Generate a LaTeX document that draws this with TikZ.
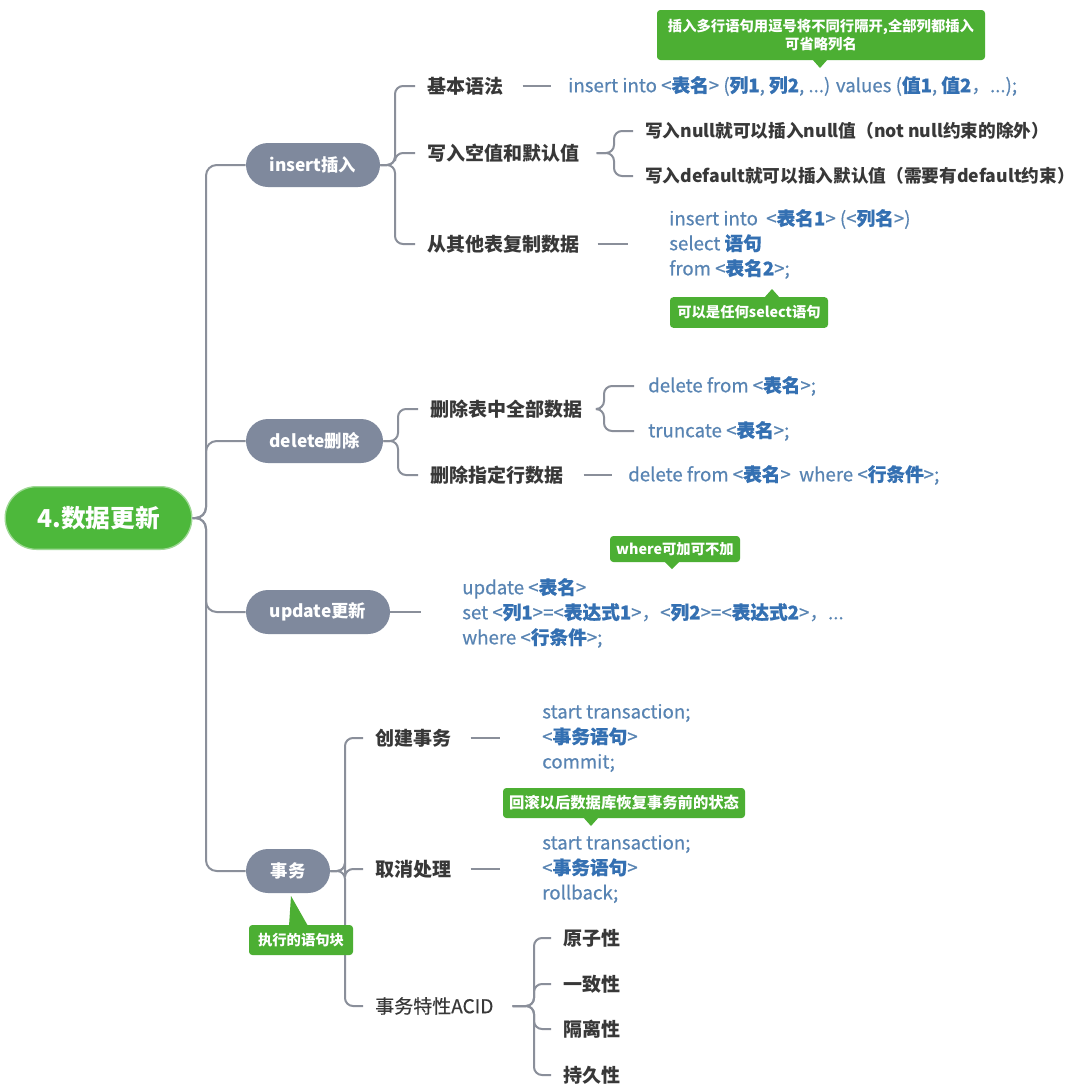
\documentclass[tikz,border=0pt]{standalone}
\usepackage{fontspec}
\setmainfont{Noto Sans CJK SC}
\newfontfamily\codefont{Noto Sans CJK SC}[FakeBold=0.5]
\usetikzlibrary{calc}
\definecolor{pillgray}{HTML}{7F899D}
\definecolor{linegray}{HTML}{8A8F9A}
\definecolor{rootgreen}{HTML}{4DB83B}
\definecolor{callgreen}{HTML}{4CAF33}
\definecolor{codeblue}{HTML}{5884B3}
\definecolor{codecjk}{HTML}{3470B2}
\definecolor{labeltext}{HTML}{383838}
\newcommand\cj[1]{\textbf{\textcolor{codecjk}{#1}}}
\begin{document}
\begin{tikzpicture}[x=0.75pt,y=-0.75pt,
  conn/.style={draw=linegray,line width=1.5pt,rounded corners=6pt},
  pill/.style={fill=pillgray,text=white,font=\bfseries\fontsize{13}{15}\selectfont,rounded corners=16.5pt,minimum height=33pt,inner sep=0pt},
  rootpill/.style={fill=rootgreen,draw=rootgreen!55!white,line width=1pt,text=white,font=\bfseries\fontsize{18.5}{21}\selectfont,rounded corners=23.5pt,minimum height=47pt,minimum width=140pt,inner sep=0pt},
  branch/.style={anchor=west,text=labeltext,font=\bfseries\fontsize{14.25}{17}\selectfont,inner xsep=9pt,inner ysep=2pt},
  leaf/.style={anchor=west,text=labeltext,font=\bfseries\fontsize{13.25}{16}\selectfont,inner xsep=9pt,inner ysep=2pt},
  branchreg/.style={anchor=west,text=labeltext,font=\codefont\fontsize{14.25}{17}\selectfont,inner xsep=9pt,inner ysep=2pt},
  code/.style={anchor=west,text=codeblue,align=left,font=\codefont\fontsize{14}{18.75}\selectfont,inner xsep=0pt,inner ysep=2pt},
  callout/.style={fill=callgreen,text=white,font=\bfseries\fontsize{10.75}{13}\selectfont,rounded corners=2.5pt,align=center,inner sep=0pt},
  bigcallout/.style={callout,font=\bfseries\fontsize{11.5}{13}\selectfont}
]
\useasboundingbox[fill=white] (0,0) rectangle (1080,1089);

% root and pills
\node[rootpill] (root) at (98.5,518) {4.数据更新};
\node[pill,minimum width=100.5pt] (pins) at (313,165) {insert插入};
\node[pill,minimum width=102.75pt] (pdel) at (314.5,441) {delete删除};
\node[pill,minimum width=108pt] (pupd) at (318,612) {update更新};
\node[pill,minimum width=63pt] (ptx) at (288,871) {事务};

% insert branches
\node[branch] (b1) at (415,86) {基本语法};
\node[branch] (b2) at (415,153) {写入空值和默认值};
\node[branch] (b3) at (415,244) {从其他表复制数据};
\node[leaf] (k1) at (633,131) {写入null就可以插入null值（not null约束的除外）};
\node[leaf] (k2) at (633,176) {写入default就可以插入默认值（需要有default约束）};
\node[code] (c1) at (568,86) {insert into <\cj{表名}> (\cj{列1}, \cj{列2}, ...) values (\cj{值1}, \cj{值2}，...);};
\node[code] (c3) at (669,244) {insert into~~<\cj{表名1}> (<\cj{列名}>)\\select \cj{语句}\\from <\cj{表名2}>;};

% delete branches
\node[branch] (e1) at (418,409) {删除表中全部数据};
\node[branch] (e2) at (418,475) {删除指定行数据};
\node[code] (d1) at (648,386) {delete from <\cj{表名}>;};
\node[code] (d2) at (648,431) {truncate <\cj{表名}>;};
\node[code] (d3) at (628,475) {delete from <\cj{表名}>~~where <\cj{行条件}>;};

% update
\node[code] (u1) at (462,613) {update <\cj{表名}>\\set <\cj{列1}>=<\cj{表达式1}>，<\cj{列2}>=<\cj{表达式2}>，...\\where <\cj{行条件}>;};
\coordinate (uend) at (421,612);

% transaction
\node[branch] (s1) at (363,738) {创建事务};
\node[branch] (s2) at (363,869) {取消处理};
\node[branchreg] (s3) at (363,1006) {事务特性ACID};
\node[code] (t1) at (542,738) {start transaction;\\<\cj{事务语句}>\\commit;};
\node[code] (t2) at (542,869) {start transaction;\\<\cj{事务语句}>\\rollback;};
\node[branch] (a1) at (551,938) {原子性};
\node[branch] (a2) at (551,984) {一致性};
\node[branch] (a3) at (551,1029) {隔离性};
\node[branch] (a4) at (551,1075) {持久性};

% trunk
\draw[conn,rounded corners=8pt] (root.east) -- (206,518) |- (pins.west);
\draw[conn,rounded corners=8pt] (root.east) -- (206,518) |- (pdel.west);
\draw[conn,rounded corners=8pt] (root.east) -- (206,518) |- (pupd.west);
\draw[conn,rounded corners=8pt] (root.east) -- (206,518) |- (ptx.west);

% insert subtree
\draw[conn] (pins.east) -- (395,165) |- (b1.west);
\draw[conn] (pins.east) -- (395,165) |- (b2.west);
\draw[conn] (pins.east) -- (395,165) |- (b3.west);
\draw[conn] ($(b1.east)+(7,0)$) -- ($(c1.west)+(-17,0)$);
\draw[conn] ($(b2.east)+(5,0)$) -- (614,153) |- (k1.west);
\draw[conn] ($(b2.east)+(5,0)$) -- (614,153) |- (k2.west);
\draw[conn] ($(b3.east)+(6,0)$) -- ($(c3.west)+(-41,0)$);

% delete subtree
\draw[conn] (pdel.east) -- (398,441) |- (e1.west);
\draw[conn] (pdel.east) -- (398,441) |- (e2.west);
\draw[conn] ($(e1.east)+(6,0)$) -- (604,409) |- ($(d1.west)+(-14,0)$);
\draw[conn] ($(e1.east)+(6,0)$) -- (604,409) |- ($(d2.west)+(-14,0)$);
\draw[conn] ($(e2.east)+(8,0)$) -- ($(d3.west)+(-16,0)$);

% update
\draw[conn] (pupd.east) -- (uend);

% transaction subtree
\draw[conn] (ptx.east) -- (345,871) |- (s1.west);
\draw[conn] (ptx.east) -- (345,871) |- (s2.west);
\draw[conn] (ptx.east) -- (345,871) |- (s3.west);
\draw[conn] ($(s1.east)+(7,0)$) -- ($(t1.west)+(-42,0)$);
\draw[conn] ($(s2.east)+(7,0)$) -- ($(t2.west)+(-42,0)$);
\draw[conn] ($(s3.east)+(7,0)$) -- (534,1006) |- (a1.west);
\draw[conn] ($(s3.east)+(7,0)$) -- (534,1006) |- (a2.west);
\draw[conn] ($(s3.east)+(7,0)$) -- (534,1006) |- (a3.west);
\draw[conn] ($(s3.east)+(7,0)$) -- (534,1006) |- (a4.west);

% callouts (drawn on top of connectors)
\node[callout,minimum width=246pt,minimum height=37.5pt] (n1) at (821,35) {插入多行语句用逗号将不同行隔开,全部列都插入\\可省略列名};
\fill[callgreen] (812,59) -- (828,59) -- (820,68) -- cycle;
\node[callout,minimum width=118.5pt,minimum height=23pt] (n2) at (749,312.5) {可以是任何select语句};
\fill[callgreen] (764,298) -- (780,298) -- (772,289) -- cycle;
\node[callout,minimum width=97.5pt,minimum height=19.5pt] (n3) at (675,549) {where可加可不加};
\fill[callgreen] (664,561) -- (680,561) -- (672,569) -- cycle;
\node[bigcallout,minimum width=181.5pt,minimum height=22.5pt] (n4) at (624,803) {回滚以后数据库恢复事务前的状态};
\fill[callgreen] (583,817) -- (599,817) -- (591,826) -- cycle;
\node[callout,minimum width=78pt,minimum height=22.5pt] (n5) at (301,940) {执行的语句块};
\fill[callgreen] (289,926) -- (308,926) -- (291,896) -- cycle;
\end{tikzpicture}
\end{document}
